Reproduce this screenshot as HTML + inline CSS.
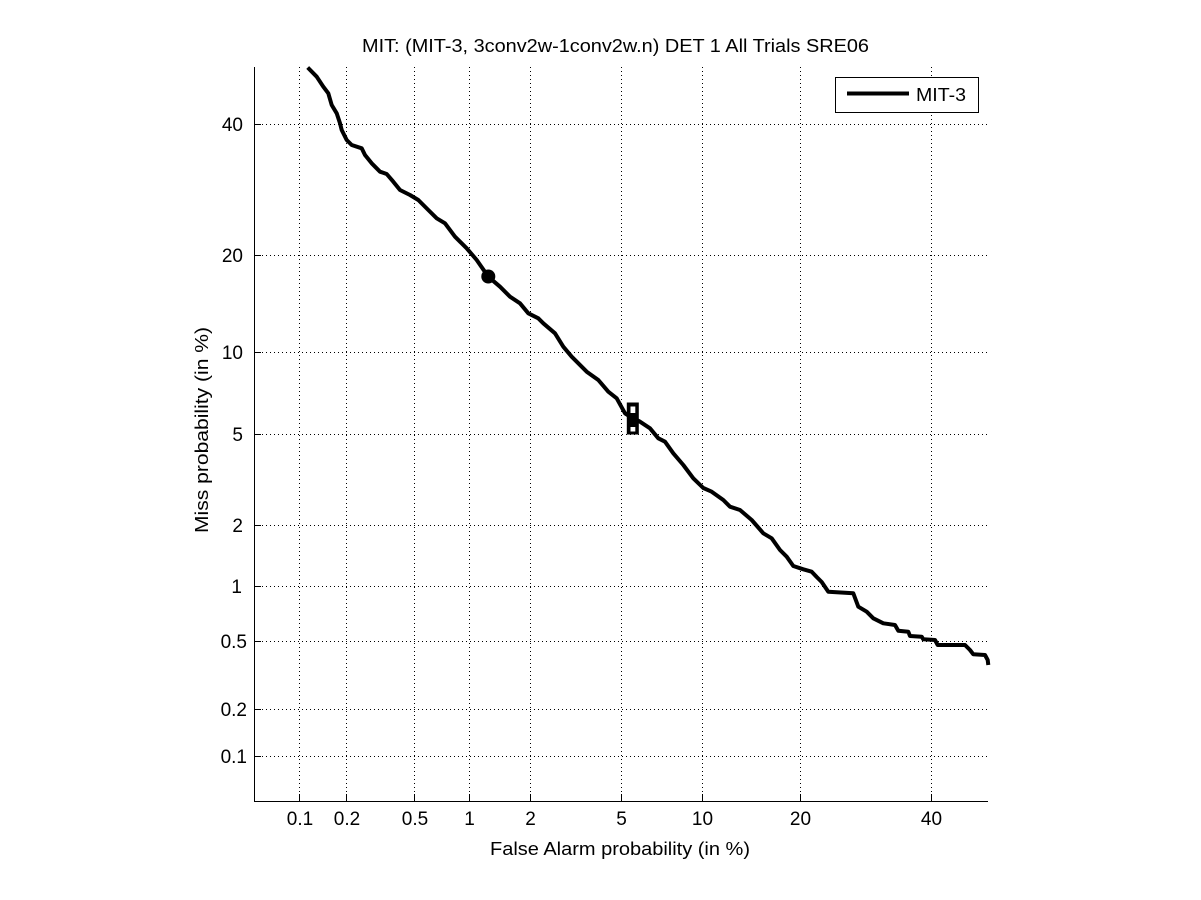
<!DOCTYPE html>
<html>
<head>
<meta charset="utf-8">
<style>
  html, body { margin: 0; padding: 0; background: #fff; }
  svg { display: block; }
  text { font-family: "Liberation Sans", Arial, Helvetica, sans-serif; fill: #000; }
</style>
</head>
<body>
<svg width="1201" height="900" viewBox="0 0 1201 900" xmlns="http://www.w3.org/2000/svg">
  <rect x="0" y="0" width="1201" height="900" fill="#fff"/>

  <!-- grid -->
  <g stroke="#000" stroke-width="1" stroke-dasharray="1 3" fill="none">
    <line x1="299.5" y1="67" x2="299.5" y2="801"/>
    <line x1="346.5" y1="67" x2="346.5" y2="801"/>
    <line x1="414.5" y1="67" x2="414.5" y2="801"/>
    <line x1="469.5" y1="67" x2="469.5" y2="801"/>
    <line x1="530.5" y1="67" x2="530.5" y2="801"/>
    <line x1="621.5" y1="67" x2="621.5" y2="801"/>
    <line x1="702.5" y1="67" x2="702.5" y2="801"/>
    <line x1="800.5" y1="67" x2="800.5" y2="801"/>
    <line x1="931.5" y1="67" x2="931.5" y2="801"/>
    <line x1="254" y1="124.5" x2="988" y2="124.5"/>
    <line x1="254" y1="255.5" x2="988" y2="255.5"/>
    <line x1="254" y1="352.5" x2="988" y2="352.5"/>
    <line x1="254" y1="434.5" x2="988" y2="434.5"/>
    <line x1="254" y1="525.5" x2="988" y2="525.5"/>
    <line x1="254" y1="586.5" x2="988" y2="586.5"/>
    <line x1="254" y1="641.5" x2="988" y2="641.5"/>
    <line x1="254" y1="709.5" x2="988" y2="709.5"/>
    <line x1="254" y1="756.5" x2="988" y2="756.5"/>
  </g>

  <!-- axes -->
  <g stroke="#000" stroke-width="1" fill="none">
    <line x1="254.5" y1="67" x2="254.5" y2="802"/>
    <line x1="254" y1="801.5" x2="988" y2="801.5"/>
    <line x1="299.5" y1="801" x2="299.5" y2="794"/>
    <line x1="346.5" y1="801" x2="346.5" y2="794"/>
    <line x1="414.5" y1="801" x2="414.5" y2="794"/>
    <line x1="469.5" y1="801" x2="469.5" y2="794"/>
    <line x1="530.5" y1="801" x2="530.5" y2="794"/>
    <line x1="621.5" y1="801" x2="621.5" y2="794"/>
    <line x1="702.5" y1="801" x2="702.5" y2="794"/>
    <line x1="800.5" y1="801" x2="800.5" y2="794"/>
    <line x1="931.5" y1="801" x2="931.5" y2="794"/>
    <line x1="254" y1="124.5" x2="261" y2="124.5"/>
    <line x1="254" y1="255.5" x2="261" y2="255.5"/>
    <line x1="254" y1="352.5" x2="261" y2="352.5"/>
    <line x1="254" y1="434.5" x2="261" y2="434.5"/>
    <line x1="254" y1="525.5" x2="261" y2="525.5"/>
    <line x1="254" y1="586.5" x2="261" y2="586.5"/>
    <line x1="254" y1="641.5" x2="261" y2="641.5"/>
    <line x1="254" y1="709.5" x2="261" y2="709.5"/>
    <line x1="254" y1="756.5" x2="261" y2="756.5"/>
  </g>

  <!-- x tick labels -->
  <g font-size="19" text-anchor="middle">
    <text x="300" y="825">0.1</text>
    <text x="347" y="825">0.2</text>
    <text x="415" y="825">0.5</text>
    <text x="469.5" y="825">1</text>
    <text x="530.5" y="825">2</text>
    <text x="621.5" y="825">5</text>
    <text x="702.5" y="825">10</text>
    <text x="800.5" y="825">20</text>
    <text x="931.5" y="825">40</text>
  </g>

  <!-- y tick labels -->
  <g font-size="19" text-anchor="end">
    <text x="243" y="131">40</text>
    <text x="243" y="262">20</text>
    <text x="243" y="359">10</text>
    <text x="243" y="441">5</text>
    <text x="243" y="532">2</text>
    <text x="242" y="593">1</text>
    <text x="247" y="648">0.5</text>
    <text x="247" y="716">0.2</text>
    <text x="247" y="763">0.1</text>
  </g>

  <!-- title & labels -->
  <text x="362" y="52" font-size="18" textLength="507" lengthAdjust="spacingAndGlyphs">MIT: (MIT-3, 3conv2w-1conv2w.n) DET 1 All Trials SRE06</text>
  <text x="490" y="855" font-size="18" textLength="260" lengthAdjust="spacingAndGlyphs">False Alarm probability (in %)</text>
  <text transform="translate(208,533) rotate(-90)" x="0" y="0" font-size="18" textLength="206" lengthAdjust="spacingAndGlyphs">Miss probability (in %)</text>

  <!-- curve -->
  <polyline fill="none" stroke="#000" stroke-width="4" stroke-linejoin="round" stroke-linecap="butt"
    points="307.7,67.5 316.7,76.7 323.3,86.7 328.3,93.3 331.7,105 336.7,113.3 340,123.3 341.7,130 346.7,140 351.7,145 361.7,148.3 365,155 371.7,163.3 380,171.7 386.7,174 393.3,181.7 400,190 410,195 418.3,200 428.3,210 436.7,218.3 445,223.3 455,236.7 466.7,248.3 476.7,260 488.3,276.7 500,286.7 510,296.7 520,303.3 528.3,313.3 538.3,318.3 543.3,323.3 555,333.3 563.3,346.7 571.7,356.7 586.7,371.7 598.3,380 608.3,391.7 616.7,398.3 625,413.3 632.7,418.3 640,421.7 650,428.3 658.3,438.3 665,441.7 673.3,453.3 683.3,465 693.3,478.3 703.3,488 711.7,491.7 723.3,500 730,506.7 740,510 751.7,520 763.3,533.3 771.7,538.3 780,550 786.7,556.7 793.3,566 803.3,569.3 811.7,571.7 816.7,577 821.7,582 828.3,591.7 853.3,593.3 858.3,606.7 866.7,611.7 873.3,618.3 883.3,623.3 895,625 898.3,630.7 908.3,631.7 910,636 921.7,636.7 923.3,639.3 935,640 937.7,645 965,645 970,650 973.3,654.3 985,655 987.7,660 988.3,665"/>

  <!-- circle marker -->
  <circle cx="488.3" cy="276.5" r="7" fill="#000"/>

  <!-- square markers -->
  <rect x="626.8" y="402.5" width="12" height="32" fill="#000"/>
  <rect x="630.5" y="406.5" width="4.8" height="6.5" fill="#fff"/>
  <rect x="630.5" y="427" width="4.8" height="4.5" fill="#fff"/>
  <line x1="625" y1="413.3" x2="640" y2="421.7" stroke="#000" stroke-width="4"/>

  <!-- legend -->
  <rect x="835.5" y="77.5" width="143" height="35" fill="#fff" stroke="#000" stroke-width="1"/>
  <line x1="847" y1="93.5" x2="909" y2="93.5" stroke="#000" stroke-width="4"/>
  <text x="916" y="101" font-size="18" textLength="50" lengthAdjust="spacingAndGlyphs">MIT-3</text>
</svg>
</body>
</html>
